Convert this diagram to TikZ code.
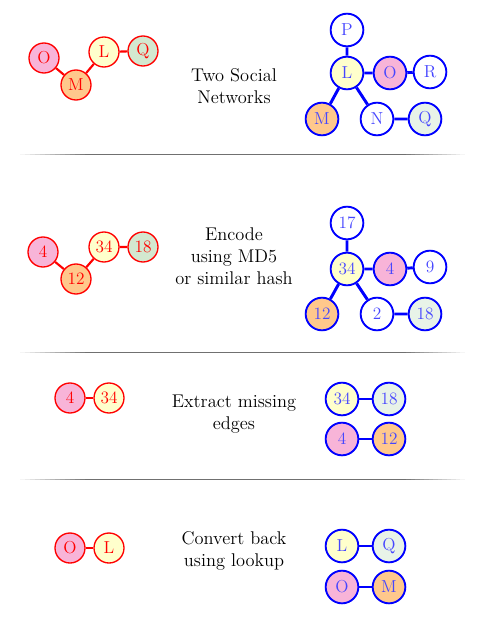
\documentclass[tikz,border=0pt]{standalone}
\definecolor{pinkF}{RGB}{248,180,216}
\definecolor{orangeF}{RGB}{255,200,140}
\definecolor{yellowF}{RGB}{255,255,204}
\definecolor{greenF}{RGB}{211,232,208}
\definecolor{paleF}{RGB}{232,243,232}
\definecolor{labelB}{RGB}{70,70,255}
\definecolor{ruleG}{RGB}{112,112,112}
\newcommand{\sepline}[1]{%
  \foreach \k [evaluate=\k as \pct using 100*(\k+1)/14] in {0,...,12}
    \fill[ruleG!\pct] (20+5*\k,#1-0.5) rectangle (25+5*\k,#1+0.5);
  \fill[ruleG] (85,#1-0.5) rectangle (406,#1+0.5);
  \foreach \k [evaluate=\k as \pct using 100*(13-\k)/14] in {0,...,12}
    \fill[ruleG!\pct] (406+4.5*\k,#1-0.5) rectangle (410.5+4.5*\k,#1+0.5);}

\begin{document}
\begin{tikzpicture}[x=0.75pt, y=-0.75pt, line width=0.6pt,
  rn/.style={circle, draw=red, text=red, line width=1pt, minimum size=22.5pt, inner sep=0pt, font=\fontsize{13}{13}\selectfont},
  bn/.style={circle, draw=blue, text=labelB, line width=1.4pt, minimum size=24.5pt, inner sep=0pt, font=\fontsize{13}{13}\selectfont},
  redge/.style={draw=red, line width=1.6pt},
  bedge/.style={draw=blue, line width=2.2pt},
  caption/.style={align=center, font=\fontsize{13.8}{16.5}\selectfont}]
  \useasboundingbox (0,0) rectangle (497,631);

  % two social networks
  \node[rn, fill=pinkF]   (rO) at (44,58)  {O};
  \node[rn, fill=orangeF] (rM) at (76,85)  {M};
  \node[rn, fill=yellowF] (rL) at (104,52) {L};
  \node[rn, fill=greenF]  (rQ) at (143,51) {Q};
  \draw[redge] (rO) -- (rM) (rM) -- (rL) (rL) -- (rQ);
  \node[caption] (cap1) at (234,86) {Two Social\\Networks};
  \node[bn, fill=white]   (bP) at (347,30)  {P};
  \node[bn, fill=yellowF] (bL) at (347,73)  {L};
  \node[bn, fill=pinkF]   (bO) at (390,73)  {O};
  \node[bn, fill=white]   (bR) at (430,72)  {R};
  \node[bn, fill=orangeF] (bM) at (322,119) {M};
  \node[bn, fill=white]   (bN) at (377,119) {N};
  \node[bn, fill=paleF]   (bQ) at (425,119) {Q};
  \draw[bedge] (bP) -- (bL) (bL) -- (bO) (bO) -- (bR) (bL) -- (bM) (bL) -- (bN) (bN) -- (bQ);
  \sepline{154.5}

  % hashed ids
  \node[rn, fill=pinkF]   (r4)  at (43,252)  {4};
  \node[rn, fill=orangeF] (r12) at (76,279)  {12};
  \node[rn, fill=yellowF] (r34) at (104,247) {34};
  \node[rn, fill=greenF]  (r18) at (143,247) {18};
  \draw[redge] (r4) -- (r12) (r12) -- (r34) (r34) -- (r18);
  \node[caption] (cap2) at (234,256) {Encode\\using MD5\\or similar hash};
  \node[bn, fill=white]   (b17) at (347,223) {17};
  \node[bn, fill=yellowF] (b34) at (347,269) {34};
  \node[bn, fill=pinkF]   (b4)  at (390,269) {4};
  \node[bn, fill=white]   (b9)  at (430,267) {9};
  \node[bn, fill=orangeF] (b12) at (322,314) {12};
  \node[bn, fill=white]   (b2)  at (377,314) {2};
  \node[bn, fill=paleF]   (b18) at (425,314) {18};
  \draw[bedge] (b17) -- (b34) (b34) -- (b4) (b4) -- (b9) (b34) -- (b12) (b34) -- (b2) (b2) -- (b18);
  \sepline{352.5}

  % missing edges
  \node[rn, fill=pinkF]   (m4)  at (70,398)  {4};
  \node[rn, fill=yellowF] (m34) at (109,398) {34};
  \draw[redge] (m4) -- (m34);
  \node[caption] (cap3) at (234,414) {Extract missing\\edges};
  \node[bn, fill=yellowF] (n34) at (342,399) {34};
  \node[bn, fill=paleF]   (n18) at (389,399) {18};
  \node[bn, fill=pinkF]   (n4)  at (342,439) {4};
  \node[bn, fill=orangeF] (n12) at (389,439) {12};
  \draw[bedge] (n34) -- (n18) (n4) -- (n12);
  \sepline{479}

  % back to names
  \node[rn, fill=pinkF]   (kO) at (70,548)  {O};
  \node[rn, fill=yellowF] (kL) at (109,548) {L};
  \draw[redge] (kO) -- (kL);
  \node[caption] (cap4) at (234,551) {Convert back\\using lookup};
  \node[bn, fill=yellowF] (uL) at (342,546) {L};
  \node[bn, fill=paleF]   (uQ) at (389,546) {Q};
  \node[bn, fill=pinkF]   (uO) at (342,587) {O};
  \node[bn, fill=orangeF] (uM) at (389,587) {M};
  \draw[bedge] (uL) -- (uQ) (uO) -- (uM);
\end{tikzpicture}
\end{document}
